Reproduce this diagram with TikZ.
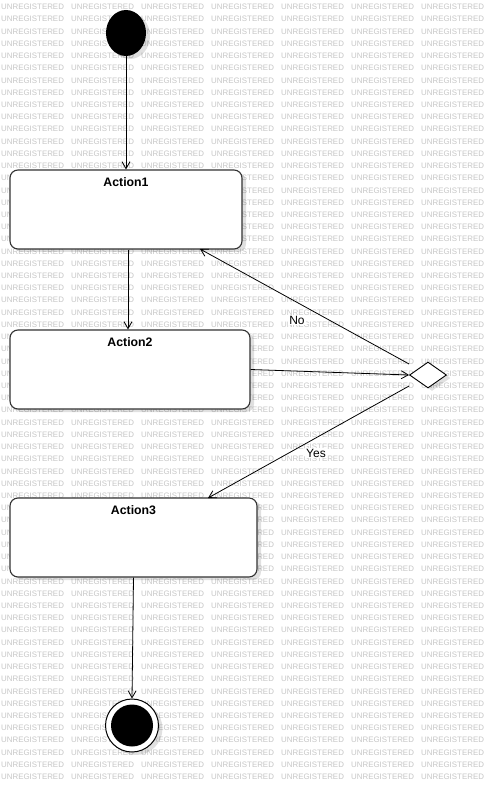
\documentclass[tikz,border=0pt]{standalone}
\usepackage{fontspec}
\setmainfont{Liberation Sans}
\usetikzlibrary{arrows.meta,shapes.geometric,shadows,calc}
\begin{document}
\begin{tikzpicture}[x=1pt,y=-1pt,
  wm/.style={anchor=west,inner sep=0pt,text=black!22,font=\fontsize{7.9}{8}\selectfont},
  softshadow/.style={drop shadow={shadow xshift=4pt,shadow yshift=-3pt,opacity=0.12,fill=black}},
  action/.style={draw=black!80,line width=1.1pt,rounded corners=8pt,fill=white,minimum height=79pt,inner sep=0pt,softshadow},
  albl/.style={anchor=north,inner sep=0pt,yshift=-8pt,font=\bfseries\fontsize{12.3}{14}\selectfont},
  flow/.style={draw=black,line width=0.8pt,-{Straight Barb[length=7pt,width=8pt,line width=0.8pt]}},
  elbl/.style={fill=white,inner sep=1pt,font=\fontsize{12}{14}\selectfont}
]
\useasboundingbox (0,0) rectangle (487,791);
\fill[white] (0,0) rectangle (487,791);
% watermark
\foreach \r in {0,...,63}{
  \foreach \c in {0,...,6}{
    \node[wm] (wm-\r-\c) at ({1+70*\c},{7+12.22*\r}) {UNREGISTERED};
  }
}
% initial node
\node[ellipse,fill=black,minimum width=40pt,minimum height=46pt,inner sep=0pt,softshadow] (init) at (126,33) {};
% actions
\node[action,minimum width=232pt,label={[albl]north:Action1}] (a1) at (126,209.5) {};
\node[action,minimum width=240pt,label={[albl]north:Action2}] (a2) at (130,369.5) {};
\node[action,minimum width=247pt,label={[albl]north:Action3}] (a3) at (133.5,537.5) {};
% decision
\node[diamond,draw=black,line width=0.9pt,fill=white,minimum width=37pt,minimum height=26pt,inner sep=0pt,softshadow] (d) at (428,375) {};
% final node
\node[circle,draw=black,line width=1pt,fill=white,minimum size=53pt,inner sep=0pt,softshadow] (fin) at (132,725.5) {};
\node[circle,fill=black,minimum size=42pt,inner sep=0pt] (finin) at (fin) {};
% connectors
\draw[flow] (init) -- (a1.north);
\draw[flow] ($(a1.south)+(2,0)$) -- ($(a2.north)+(-2,0)$);
\draw[flow] (a2.east) -- (d.west);
\coordinate (noS) at ($(d.west)+(0,-11)$);
\coordinate (noE) at (200,249);
\coordinate (yesS) at ($(d.west)+(0,11)$);
\coordinate (yesE) at (208,498);
\draw[flow] (noS) -- (noE);
\draw[flow] (yesS) -- (yesE);
\draw[flow] (a3.south) -- (fin.north);
% edge labels
\node[elbl] (lno) at (297,320) {No};
\node[elbl] (lyes) at (316,453) {Yes};
\end{tikzpicture}
\end{document}
